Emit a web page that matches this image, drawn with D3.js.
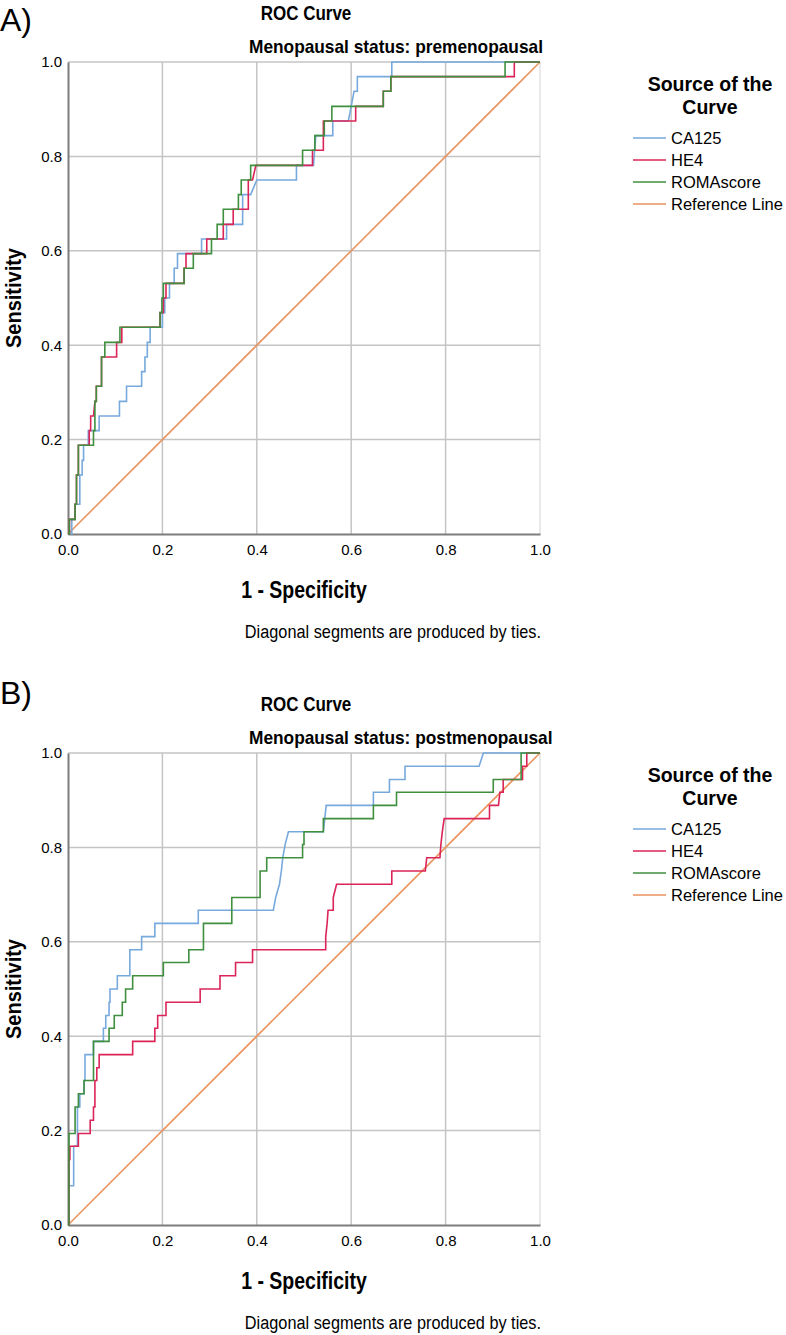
<!DOCTYPE html>
<html><head><meta charset="utf-8">
<script src="https://cdn.jsdelivr.net/npm/d3@7"></script>
<style>body{margin:0;background:#fff}svg{display:block}text{font-family:"Liberation Sans",Arial,sans-serif;fill:#000}</style>
</head><body>
<script>
const xTicks = [0, 0.2, 0.4, 0.6, 0.8, 1.0];
const yTicks = [0, 0.2, 0.4, 0.6, 0.8, 1.0];
const seriesNames = ["CA125", "HE4", "ROMAscore", "Reference Line"];
const seriesColors = ["#77a9dd", "#dc2458", "#3f8f3f", "#ea9460"];
const panelLabels = ["A)", "B)"];
const subtitles = ["Menopausal status: premenopausal", "Menopausal status: postmenopausal"];
const referenceLine = [[0, 0], [1, 1]];

const preCA125 = [[0,0],[0.008,0],[0.008,0.031],[0.015,0.031],[0.015,0.063],[0.025,0.063],[0.025,0.125],[0.03,0.125],[0.03,0.156],[0.033,0.156],[0.033,0.188],[0.043,0.188],[0.043,0.219],[0.066,0.219],[0.066,0.25],[0.109,0.25],[0.109,0.281],[0.124,0.281],[0.124,0.313],[0.156,0.313],[0.156,0.344],[0.163,0.344],[0.163,0.375],[0.168,0.375],[0.168,0.406],[0.174,0.406],[0.174,0.438],[0.2,0.438],[0.2,0.469],[0.205,0.469],[0.205,0.5],[0.215,0.5],[0.215,0.531],[0.225,0.531],[0.225,0.563],[0.232,0.563],[0.232,0.594],[0.283,0.594],[0.283,0.625],[0.336,0.625],[0.336,0.656],[0.37,0.656],[0.37,0.719],[0.387,0.719],[0.4,0.75],[0.484,0.75],[0.484,0.781],[0.52,0.781],[0.525,0.844],[0.561,0.844],[0.561,0.875],[0.594,0.875],[0.6,0.906],[0.606,0.938],[0.613,0.938],[0.613,0.969],[0.686,0.969],[0.686,1],[1,1]];
const preHE4 = [[0,0],[0.003,0],[0.003,0.031],[0.015,0.031],[0.015,0.063],[0.018,0.063],[0.018,0.125],[0.022,0.125],[0.022,0.188],[0.045,0.188],[0.045,0.219],[0.048,0.219],[0.048,0.25],[0.054,0.25],[0.057,0.281],[0.06,0.281],[0.06,0.313],[0.071,0.313],[0.071,0.375],[0.103,0.375],[0.103,0.406],[0.114,0.406],[0.114,0.438],[0.195,0.438],[0.195,0.469],[0.202,0.469],[0.202,0.5],[0.2076,0.5],[0.2076,0.531],[0.246,0.531],[0.246,0.563],[0.25,0.563],[0.25,0.594],[0.294,0.594],[0.294,0.625],[0.329,0.625],[0.329,0.656],[0.35,0.656],[0.35,0.688],[0.382,0.688],[0.382,0.75],[0.391,0.75],[0.398,0.781],[0.518,0.781],[0.518,0.813],[0.541,0.813],[0.541,0.875],[0.6095,0.875],[0.6095,0.906],[0.668,0.906],[0.668,0.938],[0.684,0.938],[0.684,0.969],[0.9456,0.969],[0.9456,1],[1,1]];
const preROMA = [[0,0],[0.003,0],[0.003,0.031],[0.015,0.031],[0.015,0.063],[0.018,0.063],[0.018,0.125],[0.022,0.125],[0.022,0.188],[0.054,0.188],[0.054,0.219],[0.057,0.219],[0.057,0.281],[0.06,0.281],[0.06,0.313],[0.071,0.313],[0.071,0.375],[0.078,0.375],[0.078,0.406],[0.11,0.406],[0.11,0.438],[0.195,0.438],[0.195,0.469],[0.199,0.469],[0.199,0.5],[0.202,0.5],[0.202,0.531],[0.246,0.531],[0.246,0.563],[0.2655,0.563],[0.2655,0.594],[0.304,0.594],[0.304,0.625],[0.316,0.625],[0.316,0.656],[0.329,0.656],[0.329,0.688],[0.361,0.688],[0.361,0.719],[0.367,0.719],[0.367,0.75],[0.387,0.75],[0.387,0.781],[0.497,0.781],[0.497,0.813],[0.523,0.813],[0.523,0.844],[0.543,0.844],[0.543,0.875],[0.559,0.875],[0.559,0.906],[0.668,0.906],[0.668,0.938],[0.684,0.938],[0.684,0.969],[0.926,0.969],[0.926,1],[1,1]];

const postCA125 = [[0,0],[0.002,0],[0.002,0.083],[0.012,0.083],[0.012,0.167],[0.02,0.167],[0.02,0.25],[0.025,0.25],[0.025,0.278],[0.034,0.278],[0.034,0.306],[0.036,0.306],[0.036,0.361],[0.054,0.361],[0.054,0.389],[0.075,0.389],[0.075,0.417],[0.08,0.417],[0.08,0.444],[0.087,0.444],[0.087,0.472],[0.089,0.472],[0.089,0.5],[0.1045,0.5],[0.1045,0.528],[0.131,0.528],[0.131,0.583],[0.156,0.583],[0.156,0.611],[0.184,0.611],[0.184,0.639],[0.276,0.639],[0.276,0.667],[0.435,0.667],[0.44,0.694],[0.448,0.722],[0.452,0.75],[0.455,0.778],[0.46,0.806],[0.467,0.833],[0.541,0.833],[0.544,0.861],[0.547,0.889],[0.647,0.889],[0.647,0.917],[0.681,0.917],[0.681,0.944],[0.714,0.944],[0.714,0.972],[0.871,0.972],[0.88,1],[1,1]];
const postHE4 = [[0,0],[0.002,0],[0.002,0.139],[0.004,0.139],[0.004,0.167],[0.022,0.167],[0.022,0.194],[0.047,0.194],[0.047,0.222],[0.054,0.222],[0.054,0.25],[0.057,0.25],[0.057,0.306],[0.061,0.306],[0.061,0.333],[0.066,0.333],[0.066,0.361],[0.137,0.361],[0.137,0.389],[0.184,0.389],[0.184,0.417],[0.19,0.417],[0.19,0.444],[0.2076,0.444],[0.2076,0.472],[0.28,0.472],[0.28,0.5],[0.322,0.5],[0.322,0.528],[0.355,0.528],[0.355,0.556],[0.391,0.556],[0.391,0.583],[0.546,0.583],[0.546,0.611],[0.549,0.639],[0.551,0.667],[0.562,0.667],[0.562,0.694],[0.569,0.722],[0.686,0.722],[0.686,0.75],[0.757,0.75],[0.76,0.778],[0.788,0.778],[0.79,0.806],[0.793,0.833],[0.797,0.861],[0.893,0.861],[0.893,0.889],[0.912,0.889],[0.915,0.917],[0.922,0.917],[0.922,0.944],[0.963,0.944],[0.963,0.972],[0.972,0.972],[0.972,1],[1,1]];
const postROMA = [[0,0],[0.002,0],[0.002,0.194],[0.015,0.194],[0.015,0.25],[0.022,0.25],[0.022,0.278],[0.034,0.278],[0.034,0.306],[0.054,0.306],[0.054,0.389],[0.087,0.389],[0.087,0.417],[0.098,0.417],[0.098,0.444],[0.115,0.444],[0.115,0.472],[0.122,0.472],[0.122,0.5],[0.137,0.5],[0.137,0.528],[0.202,0.528],[0.202,0.556],[0.256,0.556],[0.256,0.583],[0.287,0.583],[0.287,0.639],[0.347,0.639],[0.347,0.694],[0.407,0.694],[0.407,0.75],[0.421,0.75],[0.421,0.778],[0.497,0.778],[0.497,0.806],[0.5,0.806],[0.5,0.833],[0.541,0.833],[0.541,0.861],[0.647,0.861],[0.647,0.889],[0.696,0.889],[0.696,0.917],[0.901,0.917],[0.901,0.944],[0.96,0.944],[0.96,1],[1,1]];

const panels = [
  {label: panelLabels[0], subtitle: subtitles[0], series: [preCA125, preHE4, preROMA], top: 62, labelY: 31},
  {label: panelLabels[1], subtitle: subtitles[1], series: [postCA125, postHE4, postROMA], top: 753, labelY: 704}
];

const W = 786, H = 1335;
const svg = d3.select("body").append("svg").attr("width", W).attr("height", H);
svg.append("rect").attr("width", W).attr("height", H).attr("fill", "#fff");

const plotLeft = 68, plotRight = 540, plotH = 472;

// text with slight vertical stretch, like the original export
function tallText(parent, x, y, str, size, opts = {}) {
  const sy = opts.sy || 1;
  const t = parent.append("text")
    .attr("transform", `translate(${x},${y}) ${opts.rotate ? `rotate(${opts.rotate})` : ""} ${sy !== 1 ? `scale(1,${sy})` : ""}`)
    .attr("font-size", size).text(str);
  if (opts.anchor) t.attr("text-anchor", opts.anchor);
  if (opts.bold) t.attr("font-weight", "bold");
  if (opts.fill) t.attr("fill", opts.fill);
  return t;
}

panels.forEach(p => {
  const top = p.top, bottom = top + plotH;
  const x = d3.scaleLinear().domain([0, 1]).range([plotLeft, plotRight]);
  const y = d3.scaleLinear().domain([0, 1]).range([bottom, top]);
  const g = svg.append("g");

  tallText(g, 0, p.labelY, p.label, 32);
  tallText(g, 306, top - 42, "ROC Curve", 17, {anchor: "middle", bold: true, sy: 1.2});
  tallText(g, 249, top - 9, p.subtitle, 17.3, {bold: true, sy: 1.1});

  // grid
  g.append("g").selectAll("line").data(xTicks.filter(d => d > 0)).join("line")
    .attr("x1", d => x(d)).attr("x2", d => x(d)).attr("y1", top).attr("y2", bottom)
    .attr("stroke", d => d === 1 ? "#e2e2e2" : "#c4c4c4").attr("stroke-width", 1.5);
  g.append("g").selectAll("line").data(yTicks.filter(d => d > 0)).join("line")
    .attr("x1", plotLeft).attr("x2", plotRight).attr("y1", d => y(d)).attr("y2", d => y(d))
    .attr("stroke", "#c4c4c4").attr("stroke-width", 1.5);

  // axes
  const xAxis = d3.axisBottom(x).tickValues(xTicks).tickFormat(d3.format(".1f")).tickSize(0).tickPadding(10);
  const yAxis = d3.axisLeft(y).tickValues(yTicks).tickFormat(d3.format(".1f")).tickSize(0).tickPadding(6);
  const gx = g.append("g").attr("transform", `translate(0,${bottom})`).call(xAxis);
  const gy = g.append("g").attr("transform", `translate(${plotLeft},0)`).call(yAxis);
  [gx, gy].forEach(a => {
    a.select(".domain").attr("stroke", "#7d7d7d").attr("stroke-width", 2);
    a.selectAll("text").attr("font-size", 15).attr("font-family", '"Liberation Sans",Arial,sans-serif').attr("fill", "#111");
  });

  // reference line and curves
  const line = d3.line().x(d => x(d[0])).y(d => y(d[1]));
  g.append("path").datum(referenceLine).attr("d", line).attr("fill", "none")
    .attr("stroke", seriesColors[3]).attr("stroke-width", 1.6);
  p.series.forEach((s, i) => {
    g.append("path").datum(s).attr("d", line).attr("fill", "none")
      .attr("stroke", seriesColors[i]).attr("stroke-width", 1.6);
  });

  // axis titles
  tallText(g, 304, bottom + 64, "1 - Specificity", 19.5, {anchor: "middle", bold: true, sy: 1.18});
  tallText(g, 21, (top + bottom) / 2, "Sensitivity", 20, {anchor: "middle", bold: true, rotate: -90, sy: 1.12});
  tallText(g, 541, bottom + 104, "Diagonal segments are produced by ties.", 16.3, {anchor: "end", sy: 1.12, fill: "#111"});

  // legend
  const lg = g.append("g");
  tallText(lg, 710, top + 28.5, "Source of the", 19.5, {anchor: "middle", bold: true});
  tallText(lg, 710, top + 51.5, "Curve", 19.5, {anchor: "middle", bold: true});
  seriesNames.forEach((n, i) => {
    const yy = top + 76 + i * 22;
    lg.append("line").attr("x1", 633).attr("x2", 666).attr("y1", yy).attr("y2", yy)
      .attr("stroke", seriesColors[i]).attr("stroke-width", 2).attr("opacity", 0.75);
    tallText(lg, 671, yy + 6, n, 16.5, {fill: "#222"});
  });
});
</script>
</body></html>
